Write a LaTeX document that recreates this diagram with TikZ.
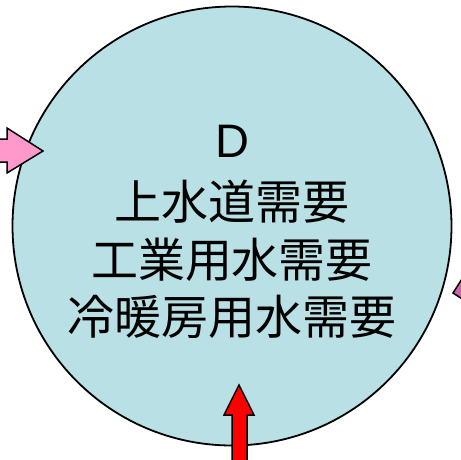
\documentclass[tikz,border=0pt]{standalone}
\usepackage{fontspec}
\setmainfont{Liberation Sans}
\newfontfamily\cjk{Noto Sans CJK JP}
\definecolor{circfill}{RGB}{185,224,228}
\definecolor{pinkarrow}{RGB}{255,153,204}
\definecolor{magarrow}{RGB}{204,102,170}
\definecolor{redarrow}{RGB}{255,0,0}
\begin{document}
\begin{tikzpicture}[x=1pt,y=-1pt,
  arrowshape/.style={draw=black,line width=1.5pt,line join=miter},
  txt/.style={anchor=base,inner sep=0pt,font=\fontsize{47}{57}\selectfont}]
\useasboundingbox (0,0) rectangle (461,459);
\clip (0,0) rectangle (461,459);
\node[circle,draw=black,line width=1.8pt,fill=circfill,minimum size=439pt,inner sep=0pt] (c) at (232,226) {};
\node[txt] (l1) at (232,157) {D};
\node[txt] (l2) at (232,219) {\cjk 上水道需要};
\node[txt] (l3) at (232,277) {\cjk 工業用水需要};
\node[txt] (l4) at (232,334) {\cjk 冷暖房用水需要};
% left pink arrow
\filldraw[arrowshape,fill=pinkarrow] (-10,139) -- (7,139) -- (7,128) -- (43,151) -- (7,173) -- (7,162) -- (-10,162) -- cycle;
% bottom red arrow
\filldraw[arrowshape,fill=redarrow] (232,470) -- (232,415) -- (224,415) -- (239,385) -- (254,415) -- (247,415) -- (247,470) -- cycle;
% right magenta arrow
\filldraw[arrowshape,fill=magarrow] (453,293) -- (467,271) -- (467,302) -- cycle;
\end{tikzpicture}
\end{document}
